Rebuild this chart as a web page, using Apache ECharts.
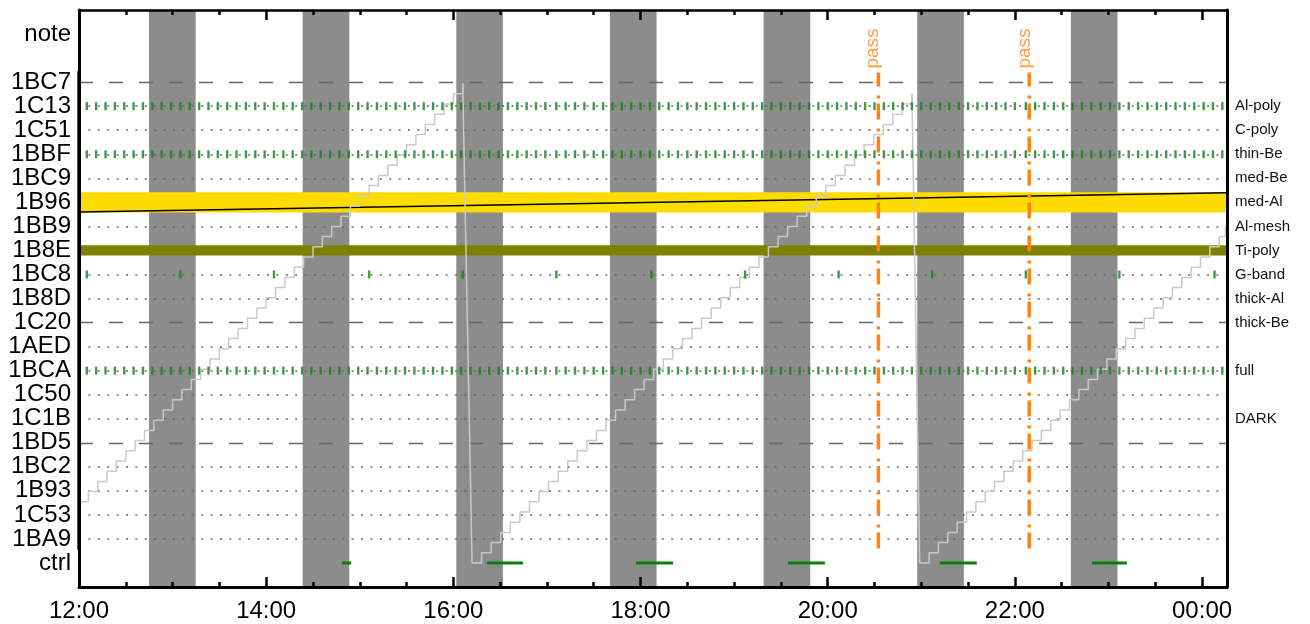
<!DOCTYPE html>
<html><head><meta charset="utf-8">
<script src="https://cdn.jsdelivr.net/npm/echarts/dist/echarts.min.js"></script>
<style>html,body{margin:0;padding:0;background:#fff}#c{width:1310px;height:624px}</style>
</head><body><div id="c"></div>
<script>
// ---- rows (value index on y axis, bottom = 0) ----
const rowsLeft = ['ctrl','1BA9','1C53','1B93','1BC2','1BD5','1C1B','1C50','1BCA','1AED','1C20','1B8D','1BC8','1B8E','1BB9','1B96','1BC9','1BBF','1C51','1C13','1BC7','','note'];
const rowsRight = ['','','','','','','DARK','','full','','thick-Be','thick-Al','G-band','Ti-poly','Al-mesh','med-Al','med-Be','thin-Be','C-poly','Al-poly','','',''];
const dottedRows = [1,2,3,4,6,7,8,9,11,12,14,16,17,18,19];
const dashedRows = [5,10,20];
// ---- time (minutes after 12:00) ----
const xMin = 0, xMax = 736;
const shadeStart = [44.9,143.4,241.9,340.4,438.9,537.4,635.9];
const shadeEnd   = [74.8,173.3,271.8,370.3,468.8,567.3,665.8];
const ctrlStart = [168.6,261.5,357.1,454.5,551.9,649.4];
const ctrlEnd   = [174.4,284.6,380.8,478.2,575.6,671.8];
const passTimes = [512.5,609.2];
const passLabelTimes = [509,606.4];
const passSpan = [0.6,20.4];
// regular sampling ticks (rows 1C13, 1BBF, 1BCA)
const sampleRows = [19,17,8];
const sampleTimes = [5,11,17,23,29,35,41,47,53,59,65,71,77,83,89,95,101,107,113,119,125,131,137,143,149,155,161,167,173,179,185,191,197,203,209,215,221,227,233,239,245,251,257,263,269,275,281,287,293,299,
306,312,318,324,330,336,342,348,354,360,366,372,378,384,390,396,402,408,414,420,426,432,438,444,450,456,462,468,474,480,486,492,498,504,510,516,522,528,534,540,546,552,558,564,570,576,582,588,594,600,
607,613,619,625,631,637,643,649,655,661,667,673,679,685,691,697,703,709,715,721,727,733];
// G-band hourly ticks
const gbandRow = 12;
const gbandTimes = [5,65,125,186,246,306,367,427,487,547,607,667,728];
// highlighted rows
const yellowRow = [14.58,15.42];
const oliveRow = [12.79,13.21];
const diagLine = [[0,14.6],[736,15.4]];
// staircase counter (hidden axis)
const stair1T = [0,6,12,18,24,30,36,42,48,54,60,66,72,78,84,90,96,102,108,114,120,126,132,138,144,150,156,162,168,174,180,186,192,198,204,210,216,222,228,234,240,246];
const stair1C = [6,7,8,9,10,11,12,13,14,15,16,17,18,19,20,21,22,23,24,25,26,27,28,29,30,31,32,33,34,35,36,37,38,39,40,41,42,43,44,45,46,47];
const stair2T = [252.0,258.1,264.3,270.4,276.5,282.7,288.8,294.9,301.0,307.2,313.3,319.4,325.6,331.7,337.8,344.0,350.1,356.2,362.3,368.5,374.6,380.7,386.9,393.0,399.1,405.3,411.4,417.5,423.6,429.8,435.9,442.0,448.2,454.3,460.4,466.6,472.7,478.8,484.9,491.1,497.2,503.3,509.5,515.6,521.7,527.9,534.0];
const stair2C = [0,1,2,3,4,5,6,7,8,9,10,11,12,13,14,15,16,17,18,19,20,21,22,23,24,25,26,27,28,29,30,31,32,33,34,35,36,37,38,39,40,41,42,43,44,45,46];
const stair3T = [539,545,551,557,563,569,575,581,587,593,599,605,611,617,623,629,635,641,647,653,659,665,671,677,683,689,695,701,707,713,719,725,731,735];
const stair3C = [0,1,2,3,4,5,6,7,8,9,10,11,12,13,14,15,16,17,18,19,20,21,22,23,24,25,26,27,28,29,30,31,32,33];
const drop1 = [[246,47],[252,0]];
const drop2 = [[534,46],[539,0]];

const FONT = 'Liberation Sans, Arial, sans-serif';
const zip = (t,c) => t.map((v,i)=>[v,c[i]]);
const fmtTime = v => { const h = (12 + Math.floor(v/60)) % 24; return (h<10?'0':'')+h+':00'; };

const gridLines = dottedRows.map(r=>({yAxis:r,lineStyle:{type:[2,7.4],color:'#666',width:1.5}}))
  .concat(dashedRows.map(r=>({yAxis:r,lineStyle:{type:[14,16],color:'#666',width:1.4}})));
const sampleData = [];
sampleRows.forEach(r=>sampleTimes.forEach(t=>sampleData.push([t,r])));

const stairStyle = {color:'#cacaca',width:1.5};
const series = [
  {type:'line',data:[],z:1,silent:true,markArea:{silent:true,itemStyle:{color:'#8c8c8c'},
    data:shadeStart.map((s,i)=>[{xAxis:s},{xAxis:shadeEnd[i]}])}},
  {type:'line',data:[],z:2,silent:true,markLine:{silent:true,symbol:['none','none'],label:{show:false},data:gridLines}},
  {type:'line',data:[],z:3,silent:true,markArea:{silent:true,data:[
    [{yAxis:yellowRow[0],itemStyle:{color:'#ffdc00'}},{yAxis:yellowRow[1]}],
    [{yAxis:oliveRow[0],itemStyle:{color:'#808000'}},{yAxis:oliveRow[1]}]
  ].concat(ctrlStart.map((s,i)=>[{xAxis:s,yAxis:-0.065,itemStyle:{color:'#0a800a'}},{xAxis:ctrlEnd[i],yAxis:0.065}]))}},
  {type:'line',data:diagLine,z:4,symbol:'none',lineStyle:{color:'#000',width:1.5}},
  {type:'line',yAxisIndex:2,data:zip(stair1T,stair1C),step:'end',symbol:'none',z:5,lineStyle:stairStyle},
  {type:'line',yAxisIndex:2,data:zip(stair2T,stair2C),step:'end',symbol:'none',z:5,lineStyle:stairStyle},
  {type:'line',yAxisIndex:2,data:zip(stair3T,stair3C),step:'end',symbol:'none',z:5,lineStyle:stairStyle},
  {type:'line',yAxisIndex:2,data:drop1,symbol:'none',z:5,lineStyle:stairStyle},
  {type:'line',yAxisIndex:2,data:drop2,symbol:'none',z:5,lineStyle:stairStyle},
  {type:'scatter',data:sampleData,symbol:'rect',symbolSize:[2.4,8],z:6,itemStyle:{color:'#148014'}},
  {type:'scatter',data:gbandTimes.map(t=>[t,gbandRow]),symbol:'rect',symbolSize:[2.4,8],z:6,itemStyle:{color:'#148014'}},
];
passTimes.forEach(t=>series.push({type:'line',data:[[t,passSpan[0]],[t,passSpan[1]]],symbol:'none',z:7,
  lineStyle:{color:'#ff8411',width:3.5,type:[16,5,3,9]}}));
series.push({type:'scatter',data:passLabelTimes.map(t=>[t,21.4]),symbolSize:1,z:7,itemStyle:{color:'rgba(0,0,0,0)'},
  label:{show:true,formatter:'pass',rotate:90,position:'inside',color:'#ff8411',fontSize:19,fontFamily:FONT}});
series.push({type:'line',data:[[0,0.55],[0,20.45]],symbol:'none',clip:false,z:8,lineStyle:{color:'#2a0a2a',width:3.5}});

const xCommon = {type:'value',min:xMin,max:xMax,interval:120,z:10,splitLine:{show:false},
  axisTick:{show:true,inside:true,length:10,lineStyle:{color:'#000',width:2.5}},
  minorTick:{show:true,splitNumber:4,length:5,lineStyle:{color:'#000',width:2.5}},
  minorSplitLine:{show:false}};
const option = {
  animation:false,
  backgroundColor:'#fff',
  grid:{left:79,right:83,top:10,bottom:37},
  xAxis:[
    Object.assign({},xCommon,{position:'bottom',axisLine:{onZero:false,lineStyle:{color:'#000',width:3}},
      axisLabel:{formatter:fmtTime,fontSize:24,color:'#000',fontFamily:FONT,margin:12}}),
    Object.assign({},xCommon,{position:'top',axisLine:{onZero:false,lineStyle:{color:'#000',width:2.5}},axisLabel:{show:false}})
  ],
  yAxis:[
    {type:'value',position:'left',min:-1,max:23,interval:1,z:10,splitLine:{show:false},axisTick:{show:false},
      axisLine:{show:true,onZero:false,lineStyle:{color:'#000',width:3}},
      axisLabel:{formatter:v=>rowsLeft[v]||'',fontSize:24,color:'#000',fontFamily:FONT,margin:8}},
    {type:'value',position:'right',min:-1,max:23,interval:1,z:10,splitLine:{show:false},axisTick:{show:false},
      axisLine:{show:true,onZero:false,lineStyle:{color:'#000',width:3}},
      axisLabel:{formatter:v=>rowsRight[v]||'',fontSize:15,color:'#111',fontFamily:FONT,margin:8}},
    {type:'value',show:false,min:-2.353,max:54.216,splitLine:{show:false}}
  ],
  series:series
};
echarts.init(document.getElementById('c'),null,{renderer:'canvas'}).setOption(option);
</script></body></html>
